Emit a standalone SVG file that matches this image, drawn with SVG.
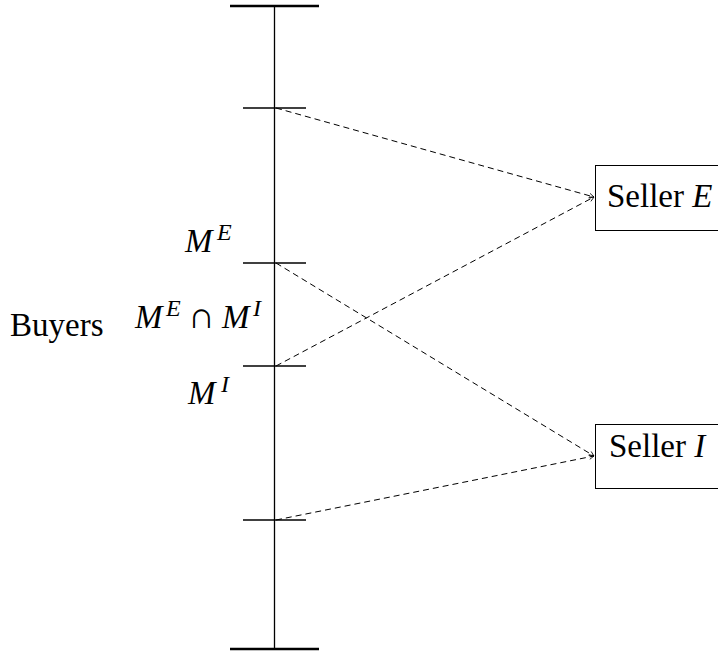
<svg xmlns="http://www.w3.org/2000/svg" width="718" height="653" viewBox="0 0 718 653">
<style>
text{font-family:'Liberation Serif',serif;font-size:33px;fill:#000}
.i{font-style:italic}
.s{font-size:24px;font-style:italic}
.ax{stroke:#000;stroke-width:1.3;fill:none}
.thick{stroke:#000;stroke-width:2.6;fill:none}
.d{stroke:#000;stroke-width:1;stroke-dasharray:6,4;fill:none;marker-end:url(#ah)}
.box{fill:#fff;stroke:#000;stroke-width:1}
</style>
<defs>
<marker id="ah" viewBox="0 0 10 10" refX="9" refY="5" markerWidth="6" markerHeight="6" markerUnits="userSpaceOnUse" orient="auto">
<path d="M1,1 L9,5 L1,9" fill="none" stroke="#000" stroke-width="1.3"/>
</marker>
</defs>
<g id="axis">
<line class="ax" x1="274.5" y1="6" x2="274.5" y2="649"/>
<line class="thick" x1="230" y1="6" x2="319" y2="6"/>
<line class="thick" x1="230" y1="649" x2="319" y2="649"/>
<line class="ax" x1="243" y1="108" x2="306" y2="108"/>
<line class="ax" x1="243" y1="263" x2="306" y2="263"/>
<line class="ax" x1="243" y1="366" x2="306" y2="366"/>
<line class="ax" x1="243" y1="520" x2="306" y2="520"/>
</g>
<g id="labels">
<text x="10" y="336">Buyers</text>
<text><tspan class="i" x="185" y="252">M</tspan><tspan class="s" x="217" y="240">E</tspan></text>
<text><tspan class="i" x="135" y="328">M</tspan><tspan class="s" x="166" y="316">E</tspan><tspan x="188" y="328" font-size="37">∩</tspan><tspan class="i" x="222" y="328">M</tspan><tspan class="s" x="253" y="316">I</tspan></text>
<text><tspan class="i" x="188" y="404">M</tspan><tspan class="s" x="221" y="392">I</tspan></text>
</g>
<g id="sellerE">
<rect class="box" x="595.5" y="165.5" width="130" height="65"/>
<text x="607" y="207">Seller <tspan class="i">E</tspan></text>
</g>
<g id="sellerI">
<rect class="box" x="595.5" y="424.5" width="130" height="64"/>
<text x="609" y="457">Seller <tspan class="i">I</tspan></text>
</g>
<g id="connectors">
<line class="d" x1="276" y1="108" x2="594" y2="197"/>
<line class="d" x1="276" y1="366" x2="594" y2="197"/>
<line class="d" x1="276" y1="263" x2="594" y2="456"/>
<line class="d" x1="276" y1="520" x2="594" y2="456"/>
</g>
</svg>
